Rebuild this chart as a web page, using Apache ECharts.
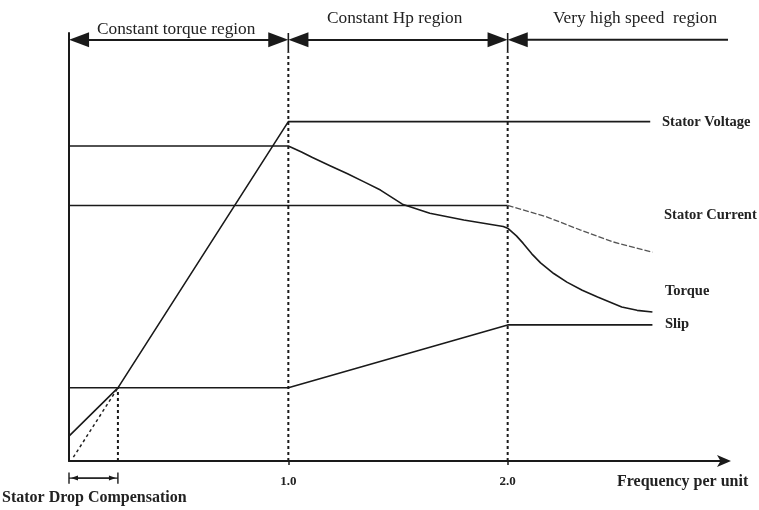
<!DOCTYPE html>
<html><head><meta charset="utf-8">
<script src="https://cdn.jsdelivr.net/npm/echarts@6/dist/echarts.min.js"></script>
<style>html,body{margin:0;padding:0;background:#fff}#c{width:759px;height:510px}</style>
</head><body><div id="c"></div>
<script>
// ---- data (frequency per unit, relative magnitude 0..100) ----
const voltage = [[0, 5.8], [0.223, 17.1], [1.0, 79.3], [2.65, 79.3]];
const voltageIdeal = [[0.02, 0.9], [0.223, 17.1]];
const current = [[0, 59.7], [2.0, 59.7]];
const currentHigh = [[2.0, 59.7], [2.18, 57.0], [2.33, 54.0], [2.48, 51.2], [2.66, 48.8]];
const torque = [[0, 73.6], [1.0, 73.6], [1.06, 72.2], [1.11, 70.9], [1.19, 69.0], [1.27, 67.1], [1.35, 65.1], [1.42, 63.3],
  [1.52, 60.0], [1.645, 57.9], [1.80, 56.3], [1.98, 54.8], [2.0, 54.4], [2.04, 52.6], [2.07, 50.9],
  [2.11, 48.4], [2.15, 46.3], [2.21, 43.8], [2.27, 41.8], [2.34, 39.9], [2.41, 38.3], [2.52, 36.0], [2.59, 35.2], [2.66, 34.8]];
const slip = [[0, 17.1], [1.0, 17.1], [2.0, 31.8], [2.66, 31.8]];
const freqTicks = [1.0, 2.0];
const compensationEnd = 0.223;
const regionBounds = [0, 1.0, 2.0, 3.09];
const regionNames = ['Constant torque region', 'Constant Hp region', 'Very high speed  region'];
const curveNames = ['Stator Voltage', 'Stator Current', 'Torque', 'Slip'];

const INK = '#1a1a1a';
const chart = echarts.init(document.getElementById('c'), null, { renderer: 'canvas' });

const arrowY = 98.4;
const inset = 0.046;
const bracketY = -4;

const lineBase = { type: 'line', showSymbol: false, symbol: 'none', silent: true, animation: false };
const headBig = [15, 20];
const headSmall = [5, 7];

const series = [
  Object.assign({}, lineBase, { name: 'Stator Voltage', data: voltage, lineStyle: { color: INK, width: 1.6 },
    markLine: { silent: true, animation: false, symbol: ['triangle', 'triangle'], symbolSize: headBig,
      label: { show: false }, lineStyle: { color: INK, width: 2, type: 'solid' },
      emphasis: { disabled: true },
      data: [
        [{ coord: [regionBounds[0] + inset, arrowY] }, { coord: [regionBounds[1] - inset, arrowY] }],
        [{ coord: [regionBounds[1] + inset, arrowY] }, { coord: [regionBounds[2] - inset, arrowY] }]
      ] } }),
  // very high speed region arrow (runs past the axis end)
  Object.assign({}, lineBase, { name: 'region3', clip: false, showSymbol: true,
    data: [{ value: [regionBounds[2] + inset, arrowY], symbol: 'triangle', symbolRotate: 90, symbolSize: headBig },
           { value: [regionBounds[3], arrowY], symbol: 'none' }],
    itemStyle: { color: INK }, lineStyle: { color: INK, width: 2 } }),
  // stator drop compensation bracket
  Object.assign({}, lineBase, { name: 'bracket', clip: false, showSymbol: true,
    data: [{ value: [0.025, bracketY], symbol: 'triangle', symbolRotate: 90, symbolSize: headSmall },
           { value: [compensationEnd - 0.025, bracketY], symbol: 'triangle', symbolRotate: -90, symbolSize: headSmall }],
    itemStyle: { color: INK }, lineStyle: { color: INK, width: 1.2 } }),
  Object.assign({}, lineBase, { name: 'bracketL', clip: false, data: [[0, bracketY + 1.3], [0, bracketY - 1.3]], lineStyle: { color: INK, width: 1.4 } }),
  Object.assign({}, lineBase, { name: 'bracketR', clip: false, data: [[compensationEnd, bracketY + 1.3], [compensationEnd, bracketY - 1.3]], lineStyle: { color: INK, width: 1.4 } }),
  Object.assign({}, lineBase, { name: 'bracketM', clip: false, data: [[0, bracketY], [compensationEnd, bracketY]], lineStyle: { color: INK, width: 1.2 } }),
  Object.assign({}, lineBase, { name: 'ideal', data: voltageIdeal, lineStyle: { color: '#222', width: 1.5, type: [3, 3] } }),
  Object.assign({}, lineBase, { name: 'Stator Current', data: current, lineStyle: { color: INK, width: 1.6 } }),
  Object.assign({}, lineBase, { name: 'Stator Current high', data: currentHigh, lineStyle: { color: '#555', width: 1.3, type: [6, 2] } }),
  Object.assign({}, lineBase, { name: 'Torque', data: torque, lineStyle: { color: INK, width: 1.6 } }),
  Object.assign({}, lineBase, { name: 'Slip', data: slip, lineStyle: { color: INK, width: 1.6 } }),
  Object.assign({}, lineBase, { name: 'comp', data: [[compensationEnd, 0], [compensationEnd, 17.1]], lineStyle: { color: INK, width: 2, type: [3, 3] } })
];
freqTicks.forEach(f => {
  series.push(Object.assign({}, lineBase, { name: 'b' + f, data: [[f, 0], [f, 95.5]], lineStyle: { color: INK, width: 2, type: [3, 3] } }));
  series.push(Object.assign({}, lineBase, { name: 't' + f, data: [[f, 95.5], [f, 100]], lineStyle: { color: INK, width: 1.6 } }));
});

const labelFont = 'bold 14.5px "Liberation Serif"';
const bottomFont = 'bold 16px "Liberation Serif"';
const regionFont = '17.3px "Liberation Serif"';
function txt(x, y, text, font) {
  return { type: 'text', x: x, y: y, silent: true, style: { text: text, font: font, fill: '#222', verticalAlign: 'middle', align: 'left' } };
}
const graphic = [
  txt(97, 29, regionNames[0], regionFont),
  txt(327, 18, regionNames[1], regionFont),
  txt(553, 18, regionNames[2], regionFont),
  txt(662, 122, curveNames[0], labelFont),
  txt(664, 215, curveNames[1], labelFont),
  txt(665, 291, curveNames[2], labelFont),
  txt(665, 324, curveNames[3], labelFont),
  txt(617, 482, 'Frequency per unit', bottomFont),
  txt(2, 498, 'Stator Drop Compensation', bottomFont)
];

chart.setOption({
  animation: false,
  backgroundColor: '#fff',
  grid: { left: 69, right: 32, top: 33, bottom: 49, containLabel: false },
  xAxis: {
    type: 'value', min: 0, max: 3,
    axisLine: { show: true, onZero: false, symbol: ['none', 'arrow'], symbolSize: [9, 14], symbolOffset: [0, 4], lineStyle: { color: INK, width: 2 } },
    axisTick: { show: true, customValues: freqTicks, length: 4, lineStyle: { color: INK, width: 1.5 } },
    axisLabel: { show: true, customValues: freqTicks, margin: 14, formatter: v => v.toFixed(1), color: '#222', fontFamily: 'Liberation Serif', fontWeight: 'bold', fontSize: 13 },
    splitLine: { show: false }
  },
  yAxis: {
    type: 'value', min: 0, max: 100,
    axisLine: { show: true, onZero: false, lineStyle: { color: INK, width: 2 } },
    axisTick: { show: false }, axisLabel: { show: false }, splitLine: { show: false }
  },
  graphic: graphic,
  series: series
});
</script></body></html>
